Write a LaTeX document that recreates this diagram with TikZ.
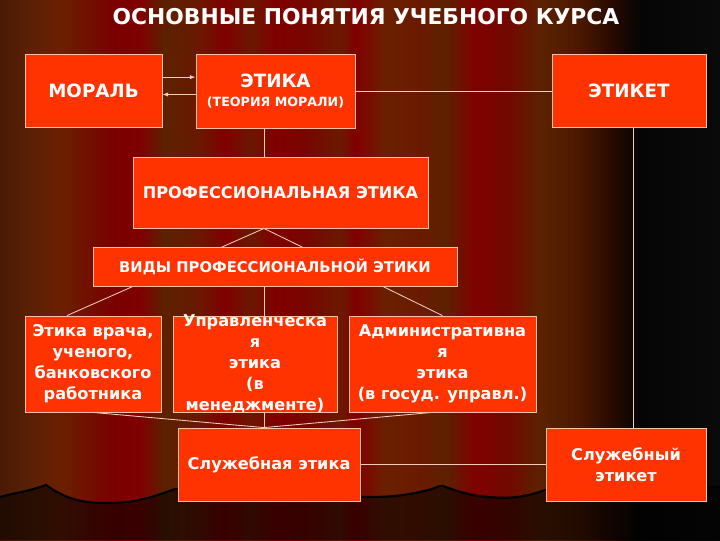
\documentclass[tikz,border=0pt]{standalone}
\usepackage{fontspec}
\setmainfont{DejaVu Sans}
\usetikzlibrary{arrows.meta}
\definecolor{boxred}{HTML}{FF3300}
\definecolor{boxrim}{HTML}{FFC2A6}
\definecolor{wirecol}{HTML}{F2CDBE}
% curtain colours, left to right
\definecolor{cu0}{HTML}{4A1A05}
\definecolor{cu1}{HTML}{5A2005}
\definecolor{cu2}{HTML}{6A2000}
\definecolor{cu3}{HTML}{7A0000}
\definecolor{cu4}{HTML}{800000}
\definecolor{cu5}{HTML}{5C2200}
\definecolor{cu6}{HTML}{6A1800}
\definecolor{cu7}{HTML}{780500}
\definecolor{cu8}{HTML}{6B1A00}
\definecolor{cu9}{HTML}{700A00}
\definecolor{cu10}{HTML}{4A1800}
\definecolor{cu11}{HTML}{2A0A00}
\definecolor{cu12}{HTML}{050505}
\definecolor{cu13}{HTML}{0A0A0A}
\pgfdeclarehorizontalshading{curtain}{100bp}{color(0bp)=(cu0); color(25bp)=(cu0);
  color(27.08bp)=(cu1); color(29.17bp)=(cu2); color(32.99bp)=(cu3); color(34.72bp)=(cu4);
  color(36.46bp)=(cu5); color(38.89bp)=(cu6); color(40.63bp)=(cu4); color(42.36bp)=(cu6);
  color(44.10bp)=(cu4); color(46.18bp)=(cu7); color(48.61bp)=(cu8); color(49.65bp)=(cu4);
  color(51.74bp)=(cu2); color(54.17bp)=(cu8); color(55.90bp)=(cu5); color(57.99bp)=(cu4);
  color(60.42bp)=(cu9); color(62.5bp)=(cu5); color(65.28bp)=(cu10); color(67.36bp)=(cu11);
  color(69.44bp)=(cu12); color(75bp)=(cu13); color(100bp)=(cu13)}
\pgfdeclarelayer{back}
\pgfdeclarelayer{wires}
\pgfsetlayers{back,wires,main}

\begin{document}
\begin{tikzpicture}[x=0.025cm,y=-0.025cm,
  box/.style={draw=boxrim,line width=0.6pt,fill=boxred,text=white,align=center,inner sep=2pt,font=\bfseries},
  wire/.style={draw=wirecol,line width=0.6pt},
  tip/.style={-{Latex[length=4pt,width=3pt]}},
  ttl/.style={text=white,font=\bfseries\fontsize{15.5}{18}\selectfont},
  big/.style={font=\bfseries\fontsize{13}{15}\selectfont},
  mid/.style={font=\bfseries\fontsize{10.5}{13}\selectfont},
  low/.style={font=\bfseries\fontsize{11.5}{15}\selectfont},
  lbl/.style={text=white,align=center,font=\bfseries\fontsize{11.5}{15}\selectfont}]
\useasboundingbox (0,0) rectangle (720,540);

\begin{pgfonlayer}{back}
\shade[shading=curtain] (0,0) rectangle (720,540);
\fill[black,opacity=0.55] (0,497) to[out=15,in=200] (46,485) to[out=-35,in=180] (106,503)
  to[out=0,in=200] (175,489) -- (365,497) to[out=0,in=195] (432,489) to[out=20,in=175] (443,486)
  to[out=-20,in=175] (488,497) to[out=-5,in=200] (548,489) -- (720,487) -- (720,540) -- (0,540) -- cycle;
\draw[black,line width=1.5pt] (0,497) to[out=15,in=200] (46,485) to[out=-35,in=180] (106,503)
  to[out=0,in=200] (175,489) -- (365,497) to[out=0,in=195] (432,489) to[out=20,in=175] (443,486)
  to[out=-20,in=175] (488,497) to[out=-5,in=200] (548,489) -- (720,487);
\end{pgfonlayer}

\node[ttl] (title) at (366,17) {ОСНОВНЫЕ ПОНЯТИЯ УЧЕБНОГО КУРСА};

\node[box,big,minimum width=3.425cm,minimum height=1.825cm] (moral) at (93.5,90.5) {МОРАЛЬ};
\node[box,big,minimum width=3.975cm,minimum height=1.85cm] (etika) at (275.5,91)
  {ЭТИКА\\[-1pt]{\fontsize{9}{11}\selectfont(ТЕОРИЯ МОРАЛИ)}};
\node[box,big,minimum width=3.85cm,minimum height=1.825cm] (etiket) at (629,90.5) {ЭТИКЕТ};
\node[box,mid,font=\bfseries\fontsize{11.5}{13}\selectfont,minimum width=7.375cm,minimum height=1.775cm] (prof) at (280.5,192.5) {ПРОФЕССИОНАЛЬНАЯ ЭТИКА};
\node[box,mid,minimum width=9.1cm,minimum height=0.975cm] (vidy) at (275,266.5) {ВИДЫ ПРОФЕССИОНАЛЬНОЙ ЭТИКИ};

\node[box,low,minimum width=3.4cm,minimum height=2.4cm] (vrach) at (93,364)
  {Этика врача,\\ученого,\\банковского\\работника};
\node[box,minimum width=4.1cm,minimum height=2.4cm,
  label={[lbl]center:Управленческа\\я\\этика\\(в\\менеджменте)}] (upr) at (255,364) {};
\node[box,low,minimum width=4.675cm,minimum height=2.4cm] (adm) at (442.5,364)
  {Административна\\я\\этика\\(в госуд. управл.)};

\node[box,low,minimum width=4.55cm,minimum height=1.825cm] (sluzh) at (269,464.5) {Служебная этика};
\node[box,low,minimum width=4cm,minimum height=1.825cm] (sluzhet) at (626,464.5) {Служебный\\этикет};

\coordinate (ax) at (264,0);
\coordinate (rx) at (633,0);
\coordinate (lx) at (67,0);
\coordinate (dx) at (432,0);

\begin{pgfonlayer}{wires}
\draw[wire] (etika.east) -- (etika.east -| etiket.west);
\draw[wire] (etika.south -| ax) -- (prof.north -| ax);
\draw[wire] (etiket.south -| rx) -- (sluzhet.north -| rx);
\draw[wire] (prof.south -| ax) -- (vrach.north -| lx);
\draw[wire] (prof.south -| ax) -- (adm.north);
\draw[wire] (vidy.south -| ax) -- (sluzh.north -| ax);
\draw[wire] (vrach.south) -- (sluzh.north -| ax);
\draw[wire] (adm.south -| dx) -- (sluzh.north -| ax);
\draw[wire] (sluzh.east) -- (sluzh.east -| sluzhet.west);
\end{pgfonlayer}

% arrows between МОРАЛЬ and ЭТИКА
\coordinate (mo1) at ([yshift=9.5pt]moral.east);
\coordinate (et1) at ([yshift=-2.5pt]etika.west);
\draw[wire,tip] (mo1) -- (mo1 -| etika.west);
\draw[wire,tip] (et1) -- (et1 -| moral.east);
\end{tikzpicture}
\end{document}
